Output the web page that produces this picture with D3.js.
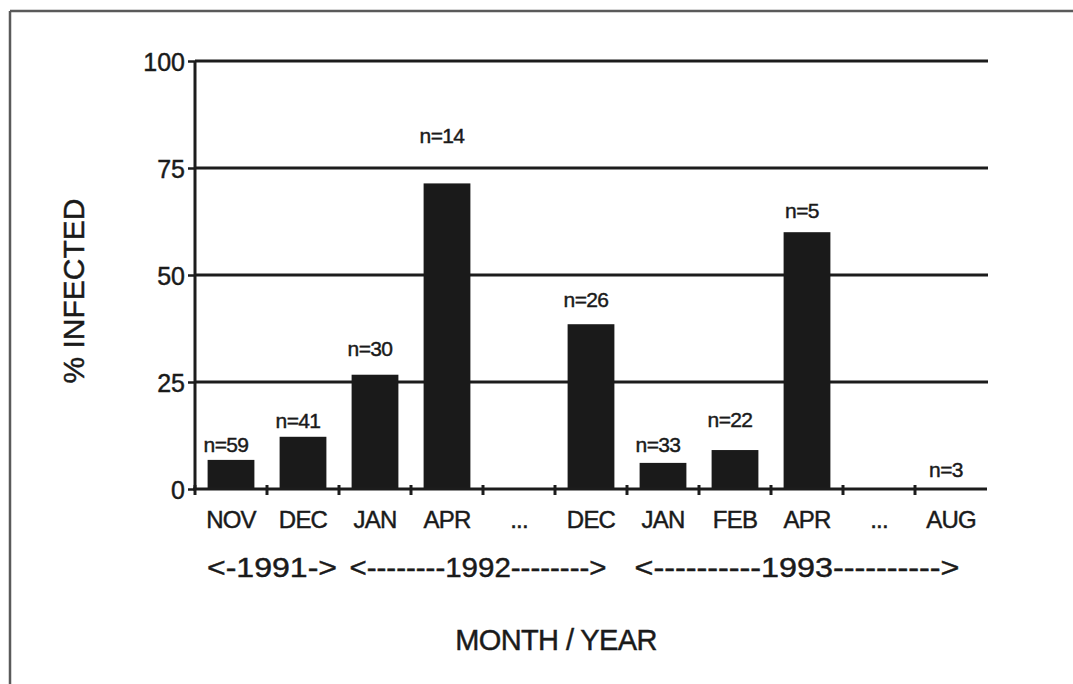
<!DOCTYPE html>
<html>
<head>
<meta charset="utf-8">
<script src="https://cdn.jsdelivr.net/npm/d3@7"></script>
<style>
  html, body { margin: 0; padding: 0; background: #fff; }
  svg { display: block; }
  text { font-family: "Liberation Sans", Arial, Helvetica, sans-serif; fill: #1a1a1a; stroke: #1a1a1a; stroke-width: 0.45px; }
</style>
</head>
<body>
<svg id="chart" width="1073" height="684"></svg>
<script>
// ---- data ----
const months = ["NOV", "DEC", "JAN", "APR", "...", "DEC", "JAN", "FEB", "APR", "...", "AUG"];
const pctInfected = [6.8, 12.2, 26.7, 71.4, null, 38.5, 6.1, 9.1, 60, null, 0];
const sampleN = [59, 41, 30, 14, null, 26, 33, 22, 5, null, 3];
const yTicks = [0, 25, 50, 75, 100];
const yearLabels = ["<-1991->", "<--------1992-------->", "<----------1993---------->"];
const yearFirstMonth = [0, 2, 6];
const yearLastMonth = [1, 5, 10];

// ---- layout (not data) ----
const labelLift = [8, 9, 19, 40, 0, 17, 11, 23, 14, 0, 12];
const yearWidths = [130, 257, 325];
const yearShift = [5, -5, -10];

const svg = d3.select("#chart");
const ink = "#1c1c1c";

// frame
svg.append("line").attr("x1", 10).attr("x2", 1073).attr("y1", 11).attr("y2", 11)
  .attr("stroke", "#5a5a5a").attr("stroke-width", 2.5);
svg.append("line").attr("x1", 10).attr("x2", 10).attr("y1", 11).attr("y2", 684)
  .attr("stroke", "#5a5a5a").attr("stroke-width", 2.5);

const idx = d3.range(months.length);
const x = d3.scaleBand().domain(idx).range([195, 987]).paddingInner(0.35).paddingOuter(0.175);
const y = d3.scaleLinear().domain([0, 100]).range([489, 61]);

// gridlines
svg.append("g").selectAll("line").data(yTicks.filter(d => d > 0)).join("line")
  .attr("x1", 195).attr("x2", 988)
  .attr("y1", d => y(d)).attr("y2", d => y(d))
  .attr("stroke", ink).attr("stroke-width", 3);

// bars
svg.append("g").selectAll("rect").data(idx.filter(i => pctInfected[i] !== null && pctInfected[i] > 0)).join("rect")
  .attr("x", i => x(i))
  .attr("width", x.bandwidth())
  .attr("y", i => y(pctInfected[i]))
  .attr("height", i => y(0) - y(pctInfected[i]))
  .attr("fill", "#1a1a1a");

// y axis
const yAxis = d3.axisLeft(y).tickValues(yTicks).tickSize(7).tickPadding(3);
const gy = svg.append("g").attr("transform", "translate(195,0)").call(yAxis);
gy.select(".domain").attr("stroke", ink).attr("stroke-width", 3).attr("d", `M0,${y(100)}V${y(0)}`);
gy.selectAll(".tick line").attr("stroke", ink).attr("stroke-width", 2.5);
gy.selectAll(".tick text").attr("font-size", 25).attr("fill", ink)
  .style("font-family", "Liberation Sans, Arial, sans-serif").attr("dy", "0.36em");

// x axis line
svg.append("line").attr("x1", 193).attr("x2", 987).attr("y1", y(0)).attr("y2", y(0))
  .attr("stroke", ink).attr("stroke-width", 3);
// x ticks at band boundaries
svg.append("g").selectAll("line").data(d3.range(months.length)).join("line")
  .attr("x1", i => x.range()[0] + i * x.step()).attr("x2", i => x.range()[0] + i * x.step())
  .attr("y1", y(0) - 4).attr("y2", y(0) + 6)
  .attr("stroke", ink).attr("stroke-width", 3);

// month labels
svg.append("g").selectAll("text").data(idx).join("text")
  .attr("x", i => x(i) + x.bandwidth() / 2)
  .attr("y", 528)
  .attr("text-anchor", "middle")
  .attr("font-size", 24)
  .attr("letter-spacing", -0.8)
  .text(i => months[i]);

// n labels
svg.append("g").selectAll("text").data(idx.filter(i => sampleN[i] !== null)).join("text")
  .attr("x", i => x(i) + x.bandwidth() / 2 - 5)
  .attr("y", i => y(pctInfected[i]) - labelLift[i])
  .attr("text-anchor", "middle")
  .attr("font-size", 21)
  .attr("letter-spacing", -0.6)
  .text(i => "n=" + sampleN[i]);

// year labels
svg.append("g").selectAll("text").data(d3.range(yearLabels.length)).join("text")
  .attr("x", k => (x(yearFirstMonth[k]) - x.step() * x.paddingOuter() + x(yearLastMonth[k]) + x.bandwidth() + x.step() * x.paddingOuter()) / 2 + yearShift[k] - yearWidths[k] / 2)
  .attr("y", 577)
  .attr("font-size", 28)
  .attr("textLength", k => yearWidths[k])
  .attr("lengthAdjust", "spacingAndGlyphs")
  .text(k => yearLabels[k]);

// axis titles
svg.append("text").attr("x", 556).attr("y", 650).attr("text-anchor", "middle")
  .attr("font-size", 29).attr("letter-spacing", -0.6).text("MONTH / YEAR");
svg.append("text").attr("transform", "translate(84,291) rotate(-90)").attr("text-anchor", "middle")
  .attr("font-size", 30).text("% INFECTED");
</script>
</body>
</html>
